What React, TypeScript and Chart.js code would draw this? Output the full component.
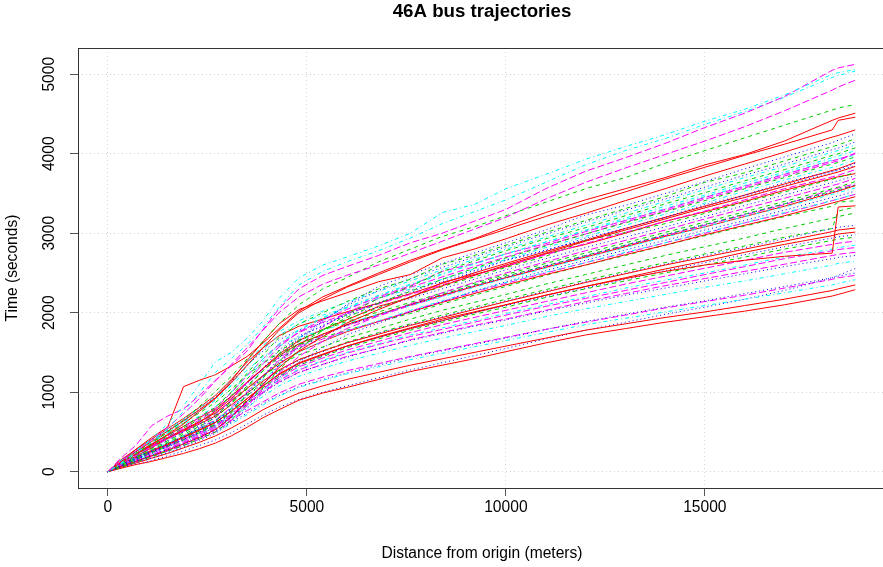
import { useEffect, useRef } from "react";
import { Chart, registerables } from "chart.js";

Chart.register(...registerables);

// distance from origin (m) at which each trajectory is sampled
const distances = [0, 300, 700, 1100, 1500, 1900, 2300, 2700, 3100, 3500, 3900, 4300, 4800, 5400, 6000, 6800, 7600, 8400, 9200, 10000, 11000, 12000, 13000, 14000, 15000, 16000, 17000, 18200, 18350, 18780];

// elapsed time (s) for each trip, one row per trip
const trajectories: number[][] = [
  [0, 100, 250, 420, 600, 830, 1100, 1380, 1500, 1680, 1900, 2180, 2440, 2600, 2700, 2840, 3000, 3260, 3360, 3560, 3740, 3930, 4090, 4240, 4410, 4560, 4740, 5000, 5020, 5060],
  [0, 160, 330, 580, 700, 790, 960, 1150, 1330, 1520, 1790, 2050, 2300, 2470, 2580, 2720, 2880, 3000, 3150, 3300, 3560, 3780, 3950, 4130, 4330, 4510, 4720, 5050, 5080, 5125],
  [0, 90, 230, 370, 540, 760, 990, 1250, 1420, 1600, 1820, 2070, 2350, 2520, 2640, 2780, 2940, 3120, 3270, 3420, 3640, 3860, 4040, 4190, 4370, 4530, 4710, 4960, 4985, 5040],
  [0, 120, 260, 400, 560, 730, 920, 1140, 1350, 1560, 1780, 2000, 2200, 2360, 2470, 2600, 2750, 2900, 3050, 3200, 3430, 3640, 3820, 3990, 4160, 4340, 4540, 4800, 4840, 4925],
  [0, 110, 280, 430, 560, 1070, 1150, 1220, 1330, 1450, 1620, 1800, 2020, 2200, 2330, 2500, 2660, 2800, 2930, 3080, 3260, 3420, 3560, 3700, 3860, 3990, 4160, 4420, 4450, 4510],
  [0, 100, 230, 360, 500, 650, 820, 1010, 1200, 1420, 1640, 1860, 2100, 2300, 2440, 2640, 2800, 2960, 3080, 3220, 3390, 3560, 3700, 3880, 4040, 4200, 4360, 4550, 4575, 4620],
  [0, 100, 220, 340, 470, 600, 760, 920, 1120, 1340, 1560, 1780, 2000, 2170, 2320, 2480, 2640, 2790, 2920, 3050, 3210, 3370, 3520, 3680, 3830, 3980, 4120, 4300, 4420, 4460],
  [0, 120, 250, 380, 510, 640, 780, 930, 1140, 1400, 1640, 1860, 2040, 2150, 2250, 2390, 2480, 2690, 2800, 2930, 3100, 3250, 3410, 3560, 3720, 3870, 4020, 4210, 4230, 4300],
  [0, 60, 130, 210, 280, 350, 430, 520, 680, 880, 1100, 1350, 1640, 1900, 2100, 2330, 2480, 2620, 2750, 2880, 3040, 3230, 3350, 3500, 3650, 3810, 3960, 4140, 4170, 4250],
  [0, 100, 230, 340, 460, 570, 690, 810, 1000, 1240, 1470, 1690, 1860, 2000, 2140, 2300, 2420, 2610, 2720, 2850, 3010, 3160, 3310, 3460, 3640, 3760, 3910, 4090, 4110, 4190],
  [0, 70, 160, 250, 330, 410, 500, 610, 770, 980, 1200, 1430, 1680, 1900, 2090, 2280, 2430, 2570, 2700, 2830, 2990, 3140, 3290, 3430, 3580, 3730, 3870, 4050, 4070, 4150],
  [0, 130, 270, 400, 530, 660, 800, 950, 1150, 1380, 1590, 1760, 1900, 2020, 2130, 2270, 2400, 2540, 2670, 2800, 2950, 3100, 3250, 3400, 3550, 3700, 3840, 4020, 4040, 4110],
  [0, 50, 120, 190, 260, 330, 410, 500, 650, 850, 1060, 1280, 1540, 1780, 1980, 2180, 2330, 2520, 2650, 2780, 2930, 3070, 3220, 3370, 3510, 3660, 3800, 3980, 4000, 4075],
  [0, 120, 250, 370, 480, 590, 700, 820, 1000, 1220, 1420, 1610, 1790, 1940, 2070, 2220, 2360, 2490, 2610, 2740, 2890, 3040, 3190, 3340, 3480, 3630, 3770, 3950, 3970, 4040],
  [0, 90, 200, 310, 410, 510, 610, 720, 900, 1130, 1360, 1570, 1760, 1910, 2040, 2200, 2340, 2520, 2620, 2740, 2870, 3020, 3160, 3300, 3450, 3590, 3740, 3910, 3930, 4000],
  [0, 70, 150, 240, 320, 400, 490, 590, 760, 960, 1180, 1390, 1600, 1780, 1940, 2120, 2270, 2420, 2560, 2690, 2840, 2990, 3130, 3270, 3410, 3560, 3700, 3870, 3890, 3960],
  [0, 120, 250, 370, 490, 620, 760, 900, 1100, 1330, 1540, 1720, 1860, 1970, 2060, 2180, 2300, 2420, 2550, 2670, 2820, 2960, 3100, 3240, 3380, 3530, 3670, 3830, 3850, 3920],
  [0, 90, 180, 270, 390, 500, 580, 690, 900, 1110, 1300, 1530, 1710, 1830, 1990, 2120, 2280, 2390, 2510, 2660, 2780, 2940, 3060, 3200, 3360, 3480, 3640, 3780, 3800, 3880],
  [0, 60, 130, 200, 270, 350, 430, 530, 690, 890, 1100, 1310, 1520, 1700, 1870, 2040, 2200, 2340, 2470, 2600, 2750, 2900, 3040, 3180, 3320, 3450, 3590, 3750, 3770, 3840],
  [0, 100, 220, 340, 450, 560, 680, 800, 990, 1210, 1420, 1600, 1750, 1880, 1990, 2110, 2230, 2350, 2470, 2590, 2730, 2870, 3010, 3150, 3280, 3420, 3560, 3710, 3730, 3800],
  [0, 80, 170, 270, 370, 470, 570, 680, 850, 1060, 1270, 1460, 1640, 1790, 1920, 2060, 2200, 2330, 2450, 2570, 2710, 2910, 3010, 3120, 3250, 3390, 3520, 3680, 3700, 3765],
  [0, 130, 270, 400, 520, 650, 790, 940, 1130, 1340, 1520, 1660, 1780, 1870, 1960, 2070, 2180, 2300, 2420, 2540, 2680, 2820, 2950, 3080, 3210, 3350, 3480, 3640, 3660, 3725],
  [0, 60, 120, 190, 260, 330, 410, 500, 640, 830, 1030, 1240, 1450, 1640, 1800, 1960, 2110, 2250, 2380, 2500, 2640, 2780, 2910, 3040, 3180, 3310, 3440, 3600, 3620, 3690],
  [0, 100, 210, 330, 440, 550, 660, 780, 960, 1170, 1360, 1520, 1660, 1780, 1890, 2010, 2130, 2250, 2370, 2480, 2620, 2750, 2880, 3010, 3140, 3270, 3400, 3560, 3580, 3650],
  [0, 70, 160, 250, 340, 440, 540, 640, 800, 1000, 1200, 1380, 1560, 1710, 1840, 1970, 2100, 2230, 2340, 2450, 2590, 2720, 2850, 2980, 3110, 3240, 3370, 3520, 3540, 3610],
  [0, 130, 260, 390, 510, 630, 760, 900, 1080, 1280, 1450, 1580, 1690, 1780, 1870, 1980, 2090, 2200, 2320, 2430, 2560, 2690, 2820, 2950, 3080, 3210, 3330, 3490, 3510, 3570],
  [0, 110, 230, 350, 460, 570, 680, 790, 950, 1130, 1300, 1460, 1610, 1730, 1850, 1980, 2100, 2220, 2330, 2440, 2570, 2700, 2830, 2960, 3080, 3210, 3340, 3510, 3530, 3600],
  [0, 50, 110, 170, 240, 310, 390, 480, 620, 800, 990, 1180, 1380, 1560, 1720, 1870, 2010, 2140, 2270, 2390, 2530, 2660, 2790, 2910, 3040, 3160, 3290, 3450, 3470, 3530],
  [0, 90, 180, 270, 360, 450, 540, 640, 800, 980, 1160, 1330, 1500, 1640, 1770, 1900, 2030, 2150, 2270, 2380, 2510, 2630, 2760, 2880, 3010, 3130, 3260, 3410, 3430, 3495],
  [0, 100, 210, 320, 430, 540, 650, 770, 940, 1120, 1290, 1440, 1560, 1670, 1770, 1890, 2020, 2140, 2260, 2370, 2500, 2630, 2750, 2880, 3000, 3130, 3250, 3410, 3430, 3490],
  [0, 110, 220, 330, 430, 530, 630, 740, 890, 1050, 1210, 1360, 1510, 1640, 1760, 1890, 2010, 2130, 2240, 2350, 2480, 2600, 2730, 2850, 2980, 3100, 3220, 3380, 3400, 3460],
  [0, 60, 130, 200, 280, 360, 440, 530, 680, 880, 1100, 1330, 1590, 1820, 2000, 2180, 2320, 2450, 2580, 2700, 2850, 2990, 3140, 3280, 3430, 3570, 3720, 3890, 3910, 4010],
  [0, 140, 280, 410, 540, 670, 810, 960, 1160, 1380, 1560, 1710, 1830, 1920, 2010, 2120, 2240, 2370, 2500, 2620, 2770, 2910, 3060, 3200, 3340, 3480, 3620, 3790, 3810, 3890],
  [0, 90, 190, 290, 390, 490, 600, 710, 870, 1040, 1200, 1340, 1470, 1570, 1680, 1800, 1920, 2030, 2130, 2230, 2360, 2480, 2600, 2720, 2830, 2940, 3060, 3190, 3210, 3255],
  [0, 90, 180, 260, 340, 430, 520, 620, 760, 920, 1080, 1230, 1370, 1480, 1580, 1700, 1810, 1920, 2010, 2100, 2220, 2330, 2430, 2520, 2600, 2660, 2710, 2750, 3330, 3345],
  [0, 120, 250, 370, 490, 610, 740, 870, 1040, 1220, 1370, 1490, 1600, 1690, 1780, 1890, 1990, 2110, 2220, 2330, 2470, 2600, 2720, 2850, 2970, 3090, 3210, 3340, 3390, 3410],
  [0, 80, 170, 250, 330, 410, 490, 580, 720, 880, 1040, 1180, 1320, 1430, 1530, 1640, 1750, 1850, 1940, 2030, 2140, 2250, 2360, 2460, 2560, 2660, 2760, 2860, 2875, 2900],
  [0, 70, 150, 230, 320, 410, 500, 590, 730, 890, 1050, 1200, 1340, 1460, 1570, 1690, 1800, 1900, 2000, 2090, 2200, 2310, 2420, 2530, 2630, 2730, 2830, 2940, 2955, 2980],
  [0, 110, 220, 320, 420, 510, 600, 700, 840, 990, 1140, 1280, 1410, 1520, 1620, 1730, 1840, 1940, 2040, 2140, 2260, 2380, 2490, 2600, 2700, 2800, 2900, 3020, 3040, 3065],
  [0, 80, 160, 240, 320, 400, 480, 570, 710, 870, 1020, 1160, 1290, 1400, 1500, 1610, 1720, 1810, 1900, 1990, 2100, 2200, 2310, 2410, 2500, 2600, 2700, 2800, 2820, 2850],
  [0, 90, 180, 270, 350, 440, 530, 620, 760, 920, 1080, 1220, 1360, 1470, 1580, 1690, 1800, 1900, 2000, 2100, 2220, 2330, 2440, 2550, 2650, 2760, 2860, 2970, 2990, 3015],
  [0, 70, 150, 230, 310, 390, 470, 560, 700, 850, 1000, 1150, 1280, 1390, 1490, 1600, 1700, 1790, 1880, 1970, 2080, 2180, 2280, 2380, 2480, 2580, 2680, 2780, 2795, 2820],
  [0, 80, 170, 250, 330, 420, 510, 600, 740, 900, 1060, 1200, 1340, 1450, 1560, 1670, 1780, 1880, 1980, 2070, 2190, 2300, 2400, 2500, 2600, 2700, 2800, 2910, 2925, 2950],
  [0, 80, 170, 260, 350, 440, 530, 630, 780, 950, 1110, 1260, 1400, 1510, 1620, 1740, 1850, 1950, 2050, 2150, 2270, 2390, 2500, 2610, 2720, 2820, 2930, 3060, 3075, 3100],
  [0, 40, 90, 130, 180, 230, 290, 360, 450, 560, 680, 780, 900, 990, 1060, 1160, 1260, 1340, 1420, 1510, 1620, 1720, 1800, 1880, 1950, 2020, 2100, 2210, 2230, 2290],
  [0, 50, 110, 170, 230, 300, 370, 450, 550, 660, 780, 880, 990, 1080, 1160, 1250, 1340, 1420, 1500, 1580, 1680, 1780, 1860, 1940, 2010, 2090, 2170, 2280, 2300, 2350],
  [0, 60, 130, 190, 260, 330, 410, 500, 600, 720, 840, 950, 1060, 1150, 1230, 1320, 1410, 1490, 1570, 1650, 1750, 1850, 1930, 2010, 2090, 2170, 2250, 2350, 2370, 2415],
  [0, 40, 90, 140, 200, 260, 330, 400, 490, 600, 710, 810, 910, 1000, 1080, 1180, 1280, 1370, 1460, 1550, 1670, 1780, 1880, 1980, 2070, 2170, 2280, 2440, 2470, 2555],
  [0, 60, 130, 200, 270, 340, 420, 510, 620, 740, 860, 960, 1070, 1160, 1240, 1340, 1440, 1520, 1600, 1680, 1790, 1890, 1980, 2070, 2150, 2240, 2330, 2440, 2460, 2500],
  [0, 60, 140, 210, 290, 370, 450, 540, 650, 770, 880, 990, 1100, 1190, 1270, 1360, 1450, 1530, 1610, 1690, 1790, 1880, 1970, 2060, 2140, 2220, 2310, 2420, 2440, 2470],
  [0, 70, 150, 230, 310, 390, 470, 560, 690, 840, 990, 1120, 1250, 1350, 1440, 1550, 1650, 1740, 1830, 1910, 2020, 2120, 2220, 2310, 2400, 2490, 2580, 2680, 2695, 2720],
  [0, 60, 140, 210, 290, 370, 450, 540, 670, 810, 950, 1080, 1200, 1300, 1390, 1490, 1590, 1680, 1760, 1840, 1950, 2050, 2140, 2230, 2320, 2400, 2490, 2600, 2620, 2650],
  [0, 80, 170, 250, 330, 410, 490, 580, 710, 860, 1000, 1130, 1250, 1350, 1450, 1550, 1660, 1750, 1840, 1920, 2030, 2140, 2240, 2340, 2430, 2520, 2610, 2720, 2735, 2760],
  [0, 90, 180, 270, 360, 450, 540, 640, 790, 960, 1120, 1270, 1410, 1520, 1630, 1750, 1860, 1970, 2070, 2170, 2290, 2410, 2520, 2630, 2740, 2840, 2950, 3060, 3280, 3330],
  [0, 100, 190, 300, 420, 520, 620, 760, 920, 1120, 1300, 1480, 1650, 1790, 1910, 2080, 2190, 2380, 2480, 2580, 2740, 2860, 3000, 3150, 3270, 3400, 3540, 3690, 3710, 3750],
  [0, 80, 170, 260, 350, 450, 560, 680, 860, 1070, 1290, 1490, 1690, 1840, 1970, 2130, 2250, 2420, 2530, 2660, 2790, 2920, 3060, 3200, 3340, 3470, 3600, 3770, 3790, 3850],
  [0, 90, 200, 300, 410, 520, 640, 760, 950, 1170, 1390, 1590, 1780, 1930, 2060, 2210, 2350, 2480, 2620, 2740, 2890, 3030, 3170, 3310, 3460, 3600, 3750, 3920, 3940, 3980],
  [0, 100, 200, 310, 410, 510, 620, 730, 890, 1080, 1270, 1440, 1600, 1730, 1850, 1980, 2110, 2230, 2350, 2460, 2590, 2720, 2850, 2980, 3110, 3240, 3370, 3530, 3550, 3600],
  [0, 70, 160, 250, 350, 450, 550, 650, 810, 1010, 1210, 1400, 1580, 1720, 1840, 1960, 2090, 2210, 2330, 2440, 2580, 2710, 2840, 2970, 3100, 3230, 3360, 3550, 3570, 3620],
];

// line style of each trip: 0 red solid, 1 green dashed, 2 blue dotted, 3 cyan dot-dash, 4 magenta long-dash
const tripStyle = [3, 4, 3, 4, 0, 1, 0, 0, 2, 1, 2, 3, 1, 3, 4, 1, 3, 2, 0, 4, 1, 2, 4, 1, 2, 3, 0, 2, 3, 4, 0, 4, 0, 1, 0, 1, 4, 2, 0, 3, 0, 4, 1, 2, 0, 0, 3, 2, 2, 4, 2, 3, 4, 1, 0, 2, 3, 1, 4];

const xTicks = [0, 5000, 10000, 15000];
const yTicks = [0, 1000, 2000, 3000, 4000, 5000];

const titleText = "46A bus trajectories";
const xTitle = "Distance from origin (meters)";
const yTitle = "Time (seconds)";

const lineColors = ["#FF0000", "#00CD00", "#0000FF", "#00FFFF", "#FF00FF"];
const lineDashes = [[], [4, 4], [1, 3], [1, 3, 4, 3], [7, 3]];
const FONT = "'Liberation Sans', Arial, Helvetica, sans-serif";

const boxPlugin = {
  id: "plotBox",
  afterDraw(chart: any) {
    const { ctx, chartArea: a } = chart;
    ctx.save();
    ctx.strokeStyle = "#333";
    ctx.lineWidth = 1;
    ctx.setLineDash([]);
    ctx.strokeRect(Math.round(a.left) + 0.5, Math.round(a.top) + 0.5, Math.round(a.right - a.left), Math.round(a.bottom - a.top));
    ctx.restore();
  },
};

export default function App() {
  const ref = useRef<HTMLCanvasElement>(null);
  useEffect(() => {
    const datasets = trajectories.map((ys, i) => ({
      label: `trip ${i + 1}`,
      data: ys.map((y, j) => ({ x: distances[j], y })),
      borderColor: lineColors[tripStyle[i]],
      borderDash: lineDashes[tripStyle[i]],
      borderWidth: 1,
      pointRadius: 0,
      tension: 0,
      fill: false,
    }));
    const tickFont = { family: FONT, size: 15.6 };
    const chart = new Chart(ref.current as HTMLCanvasElement, {
      type: "line",
      data: { datasets },
      plugins: [boxPlugin],
      options: {
        responsive: false,
        animation: false,
        devicePixelRatio: 1,
        layout: { padding: { left: 0, right: 4, top: 0, bottom: 0 } },
        plugins: {
          legend: { display: false },
          tooltip: { enabled: false },
          title: {
            display: true,
            text: titleText,
            fullSize: false,
            color: "#000",
            font: { family: FONT, size: 18.7, weight: "bold", lineHeight: 1.2 },
            padding: { top: 1, bottom: 24.6 },
          },
        },
        scales: {
          x: {
            type: "linear",
            min: -752,
            max: 19552,
            afterBuildTicks: (s: any) => {
              s.ticks = xTicks.map((v) => ({ value: v }));
            },
            afterFit: (s: any) => {
              s.height = 79;
            },
            ticks: {
              callback: (v: any) => String(v),
              color: "#000",
              font: tickFont,
              padding: 2,
              maxRotation: 0,
              minRotation: 0,
              autoSkip: false,
            },
            grid: { color: "#d3d3d3", lineWidth: 1, tickLength: 8, tickColor: "#555", tickWidth: 1 },
            border: { display: false, dash: [1, 3] },
            title: { display: true, text: xTitle, color: "#000", font: tickFont, padding: { top: 0, bottom: 3.6 } },
          },
          y: {
            type: "linear",
            min: -205,
            max: 5330,
            afterBuildTicks: (s: any) => {
              s.ticks = yTicks.map((v) => ({ value: v }));
            },
            afterFit: (s: any) => {
              s.width = 78;
            },
            ticks: {
              callback: (v: any) => String(v),
              color: "#000",
              font: tickFont,
              padding: 2.6,
              minRotation: 90,
              maxRotation: 90,
              crossAlign: "center",
              autoSkip: false,
            },
            grid: { color: "#d3d3d3", lineWidth: 1, tickLength: 8, tickColor: "#555", tickWidth: 1 },
            border: { display: false, dash: [1, 3] },
            title: { display: true, text: yTitle, color: "#000", font: tickFont, padding: { top: 3.6, bottom: 0 } },
          },
        },
      } as any,
    });
    return () => chart.destroy();
  }, []);
  return (
    <div style={{ position: "fixed", left: 0, top: 0, width: 883, height: 567, overflow: "hidden", background: "#fff" }}>
      <canvas ref={ref} width={890} height={567} style={{ display: "block", width: 890, height: 567 }} />
    </div>
  );
}
